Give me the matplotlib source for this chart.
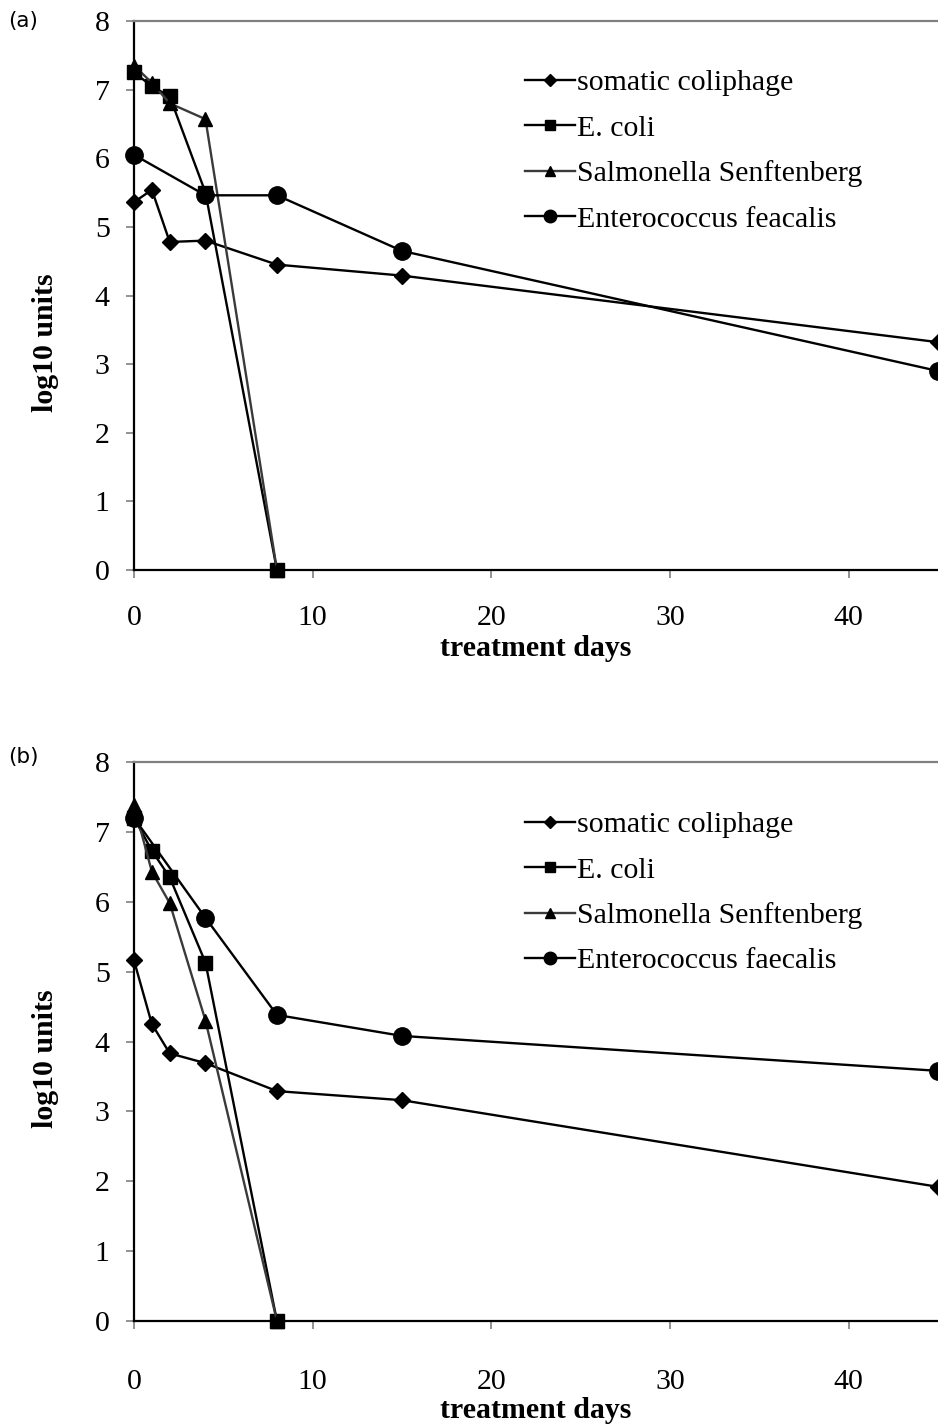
import matplotlib
matplotlib.use("Agg")
import matplotlib.pyplot as plt

# Sampling days
days_coliphage = [0, 1, 2, 4, 8, 15, 45]
days_bacteria = [0, 1, 2, 4, 8]
days_entero = [0, 4, 8, 15, 45]

# Panel (a)
a_coliphage = [5.36, 5.54, 4.78, 4.80, 4.45, 4.29, 3.32]
a_ecoli = [7.25, 7.05, 6.90, 5.50, 0.0]
a_salmonella = [7.35, 7.10, 6.80, 6.57, 0.0]
a_entero = [6.05, 5.46, 5.46, 4.65, 2.90]
a_labels = ["somatic coliphage", "E. coli", "Salmonella Senftenberg",
            "Enterococcus feacalis"]

# Panel (b)
b_coliphage = [5.16, 4.25, 3.83, 3.69, 3.29, 3.16, 1.92]
b_ecoli = [7.20, 6.73, 6.35, 5.13, 0.0]
b_salmonella = [7.38, 6.43, 5.98, 4.30, 0.0]
b_entero = [7.20, 5.77, 4.38, 4.08, 3.58]
b_labels = ["somatic coliphage", "E. coli", "Salmonella Senftenberg",
            "Enterococcus faecalis"]

x_ticks = [0, 10, 20, 30, 40]
y_ticks = [0, 1, 2, 3, 4, 5, 6, 7, 8]

plt.rcParams["font.family"] = ["Liberation Serif", "DejaVu Serif"]

fig = plt.figure(figsize=(9.38, 14.24), dpi=100)
W, H = 938, 1424
FS = 21.5


def panel(top, bottom, coliphage, ecoli, salmonella, entero, labels,
          tag, tag_y, xpad, xlab_y, ylab_y):
    ax = fig.add_axes([134 / W, 1 - bottom / H, 1 - 134 / W,
                       (bottom - top) / H])
    lw = 1.7
    ax.plot(days_coliphage, coliphage, color="black", lw=lw, marker="D",
            ms=8.5, label=labels[0], clip_on=False, zorder=3)
    ax.plot(days_bacteria, ecoli, color="black", lw=lw, marker="s",
            ms=10, label=labels[1], clip_on=False, zorder=3)
    ax.plot(days_bacteria, salmonella, color="#3a3a3a", lw=lw, marker="^",
            ms=10, mfc="black", mec="black", label=labels[2],
            clip_on=False, zorder=3)
    ax.plot(days_entero, entero, color="black", lw=lw, marker="o",
            ms=12.5, label=labels[3], clip_on=False, zorder=3)
    ax.set_xlim(0, 45)
    ax.set_ylim(0, 8)
    ax.set_xticks(x_ticks)
    ax.set_yticks(y_ticks)
    ax.tick_params(labelsize=FS, length=5.5, width=1.2, color="#808080",
                   direction="out")
    ax.tick_params(axis="x", pad=xpad)
    ax.tick_params(axis="y", pad=12)
    for s in ("left", "bottom"):
        ax.spines[s].set_color("black")
        ax.spines[s].set_linewidth(1.6)
    ax.spines["top"].set_color("#808080")
    ax.spines["top"].set_linewidth(1.6)
    ax.spines["right"].set_visible(False)

    ax.set_xlabel("treatment days", fontsize=FS, fontweight="bold")
    ax.xaxis.set_label_coords(0.5, (bottom - xlab_y) / (bottom - top))
    ax.xaxis.label.set_va("center")
    ax.set_ylabel("log10 units", fontsize=FS, fontweight="bold")
    ax.yaxis.set_label_coords(-0.11, (bottom - ylab_y) / (bottom - top))
    ax.yaxis.label.set_va("center")

    ax.legend(loc="upper left", bbox_to_anchor=(0.486, 0.912),
              frameon=False, fontsize=FS, handlelength=1.67,
              handletextpad=0.08, labelspacing=0.62, borderaxespad=0,
              borderpad=0, markerscale=0.72)
    fig.text(8 / W, 1 - tag_y / H, tag, family="DejaVu Sans", fontsize=15.5,
             va="center", ha="left")
    return ax


panel(21, 570, a_coliphage, a_ecoli, a_salmonella, a_entero, a_labels,
      "(a)", 21, 20, 649, 343)
panel(762, 1321, b_coliphage, b_ecoli, b_salmonella, b_entero, b_labels,
      "(b)", 757, 29, 1410, 1059)

fig.savefig("out.png", dpi=100)
